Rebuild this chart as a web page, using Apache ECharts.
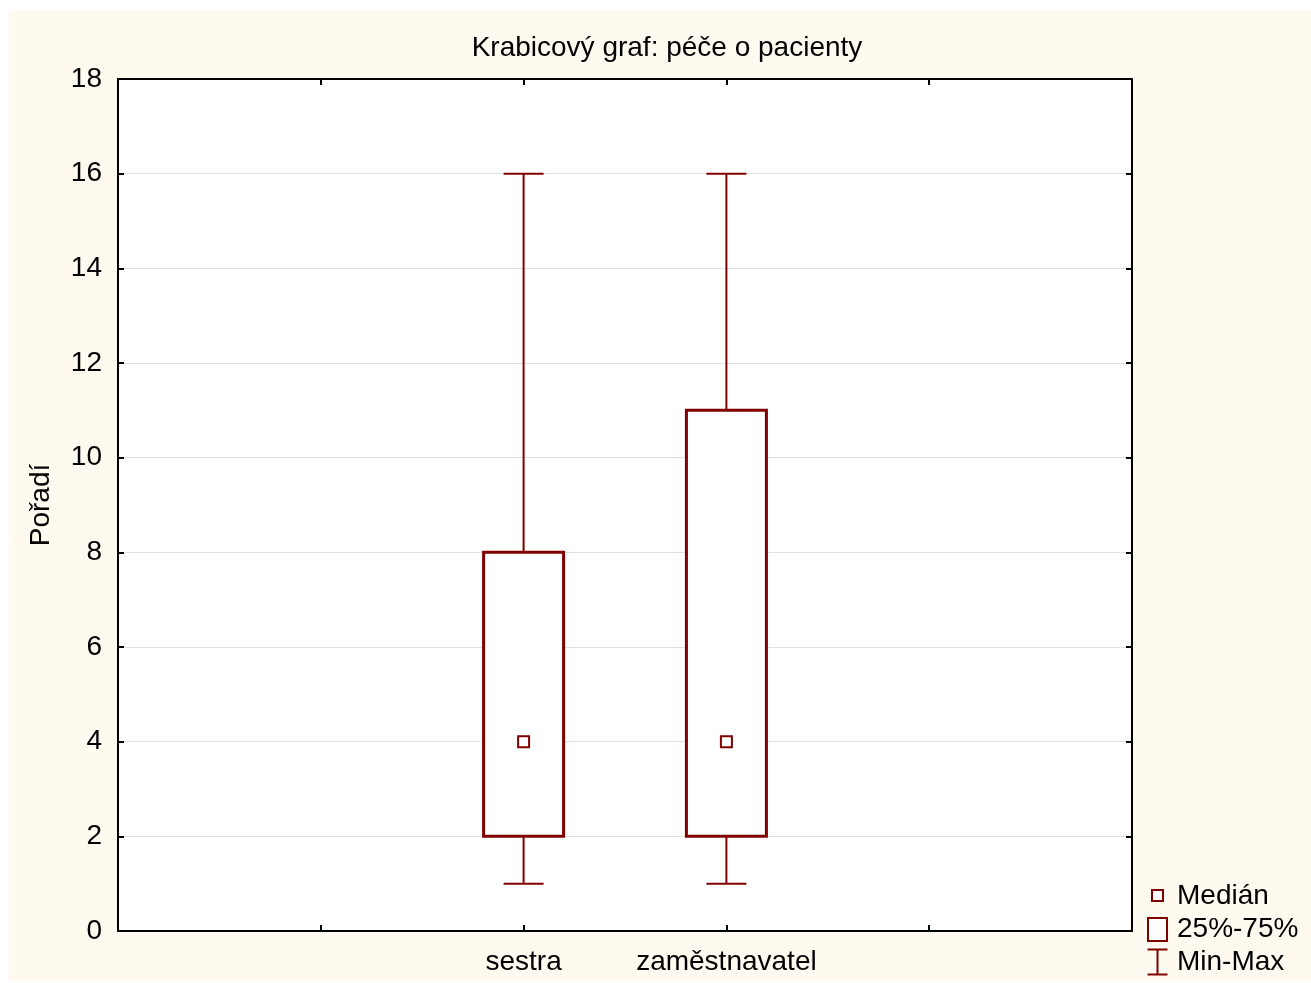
<!DOCTYPE html>
<html>
<head>
<meta charset="utf-8">
<script src="https://cdn.jsdelivr.net/npm/echarts@6/dist/echarts.min.js"></script>
<style>
  html, body { margin: 0; padding: 0; background: #fff; }
  #chart { width: 1311px; height: 983px; }
</style>
</head>
<body>
<div id="chart"></div>
<script>
var categories = ['sestra', 'zaměstnavatel'];
var slots = [2, 3];              // where each category sits on the 0..5 x scale
var minVals = [1, 1];
var q1Vals = [2, 2];
var medianVals = [4, 4];
var q3Vals = [8, 11];
var maxVals = [16, 16];
var yTicks = [0, 2, 4, 6, 8, 10, 12, 14, 16, 18];

var RED = '#800000';
var FONT = 'Liberation Sans, Arial, sans-serif';

var boxData = categories.map(function (c, i) {
    return [slots[i], minVals[i], q1Vals[i], medianVals[i], q3Vals[i], maxVals[i]];
});

function labelFor(v) {
    var i = slots.indexOf(v);
    return i >= 0 ? categories[i] : '';
}

var chart = echarts.init(document.getElementById('chart'));

function axisCommon() {
    return {
        axisLine: { show: true, onZero: false, lineStyle: { color: '#000', width: 2 } },
        axisTick: { show: true, inside: true, length: 6, lineStyle: { color: '#000', width: 2 } }
    };
}

var option = {
    backgroundColor: '#ffffff',
    animation: false,
    title: {
        text: 'Krabicový graf: péče o pacienty',
        left: 662,
        top: 29,
        textAlign: 'center',
        textStyle: { fontFamily: FONT, fontSize: 28, fontWeight: 'normal', color: '#000' }
    },
    grid: {
        left: 118, top: 79, right: 179, bottom: 52,
        show: true, backgroundColor: '#ffffff', borderWidth: 0
    },
    graphic: [
        { type: 'rect', z: -10, silent: true,
          shape: { x: 9, y: 10, width: 1302, height: 971 },
          style: { fill: '#fefaf0' } },
        { type: 'rect', left: 1151, top: 889, z: 10,
          shape: { width: 11, height: 11 },
          style: { fill: '#fff', stroke: RED, lineWidth: 2 } },
        { type: 'text', left: 1177, top: 882, z: 10,
          style: { text: 'Medián', font: '28px ' + FONT, fill: '#000' } },
        { type: 'rect', left: 1147, top: 917, z: 10,
          shape: { width: 19, height: 23 },
          style: { fill: '#fff', stroke: RED, lineWidth: 2 } },
        { type: 'text', left: 1177, top: 915, z: 10,
          style: { text: '25%-75%', font: '28px ' + FONT, fill: '#000' } },
        { type: 'group', left: 1145, top: 947, z: 10, children: [
            { type: 'line', shape: { x1: 2, y1: 1, x2: 22, y2: 1 }, style: { stroke: RED, lineWidth: 2 } },
            { type: 'line', shape: { x1: 12, y1: 1, x2: 12, y2: 26 }, style: { stroke: RED, lineWidth: 2 } },
            { type: 'line', shape: { x1: 2, y1: 26, x2: 22, y2: 26 }, style: { stroke: RED, lineWidth: 2 } }
        ] },
        { type: 'text', left: 1177, top: 948, z: 10,
          style: { text: 'Min-Max', font: '28px ' + FONT, fill: '#000' } }
    ],
    xAxis: [
        Object.assign({
            type: 'value', position: 'bottom', min: 0, max: 5, interval: 1,
            splitLine: { show: false },
            axisLabel: {
                margin: 17, fontFamily: FONT, fontSize: 28, color: '#000',
                formatter: function (v) { return labelFor(v); }
            }
        }, axisCommon()),
        Object.assign({
            type: 'value', position: 'top', min: 0, max: 5, interval: 1,
            splitLine: { show: false }, axisLabel: { show: false }
        }, axisCommon())
    ],
    yAxis: [
        Object.assign({
            type: 'value', position: 'left', min: yTicks[0], max: yTicks[yTicks.length - 1], interval: 2,
            name: 'Pořadí', nameLocation: 'middle', nameGap: 63, nameRotate: 90,
            nameTextStyle: { fontFamily: FONT, fontSize: 28, color: '#000' },
            splitLine: { show: true, lineStyle: { color: '#e0e0e0', width: 1 } },
            axisLabel: { margin: 16, fontFamily: FONT, fontSize: 28, color: '#000' }
        }, axisCommon()),
        Object.assign({
            type: 'value', position: 'right', min: yTicks[0], max: yTicks[yTicks.length - 1], interval: 2,
            splitLine: { show: false }, axisLabel: { show: false }
        }, axisCommon())
    ],
    series: [
        {
            name: 'Min-Max', type: 'custom', xAxisIndex: 0, yAxisIndex: 0,
            data: boxData, z: 3,
            renderItem: function (params, api) {
                var x = api.value(0);
                var pMin = api.coord([x, api.value(1)]);
                var pQ1 = api.coord([x, api.value(2)]);
                var pQ3 = api.coord([x, api.value(4)]);
                var pMax = api.coord([x, api.value(5)]);
                var cap = 20;
                var st = { stroke: RED, lineWidth: 2 };
                return { type: 'group', children: [
                    { type: 'line', shape: { x1: pMax[0], y1: pMax[1], x2: pQ3[0], y2: pQ3[1] }, style: st },
                    { type: 'line', shape: { x1: pQ1[0], y1: pQ1[1], x2: pMin[0], y2: pMin[1] }, style: st },
                    { type: 'line', shape: { x1: pMax[0] - cap, y1: pMax[1], x2: pMax[0] + cap, y2: pMax[1] }, style: st },
                    { type: 'line', shape: { x1: pMin[0] - cap, y1: pMin[1], x2: pMin[0] + cap, y2: pMin[1] }, style: st }
                ] };
            }
        },
        {
            name: '25%-75%', type: 'custom', xAxisIndex: 0, yAxisIndex: 0,
            data: boxData, z: 4,
            renderItem: function (params, api) {
                var x = api.value(0);
                var pQ1 = api.coord([x, api.value(2)]);
                var pQ3 = api.coord([x, api.value(4)]);
                var w = 80;
                return { type: 'rect',
                    shape: { x: pQ3[0] - w / 2, y: pQ3[1], width: w, height: pQ1[1] - pQ3[1] },
                    style: { fill: '#fff', stroke: RED, lineWidth: 3 } };
            }
        },
        {
            name: 'Medián', type: 'custom', xAxisIndex: 0, yAxisIndex: 0,
            data: boxData, z: 5,
            renderItem: function (params, api) {
                var x = api.value(0);
                var p = api.coord([x, api.value(3)]);
                var s = 11;
                return { type: 'rect',
                    shape: { x: p[0] - s / 2, y: p[1] - s / 2, width: s, height: s },
                    style: { fill: '#fff', stroke: RED, lineWidth: 2 } };
            }
        }
    ]
};

chart.setOption(option);
</script>
</body>
</html>
